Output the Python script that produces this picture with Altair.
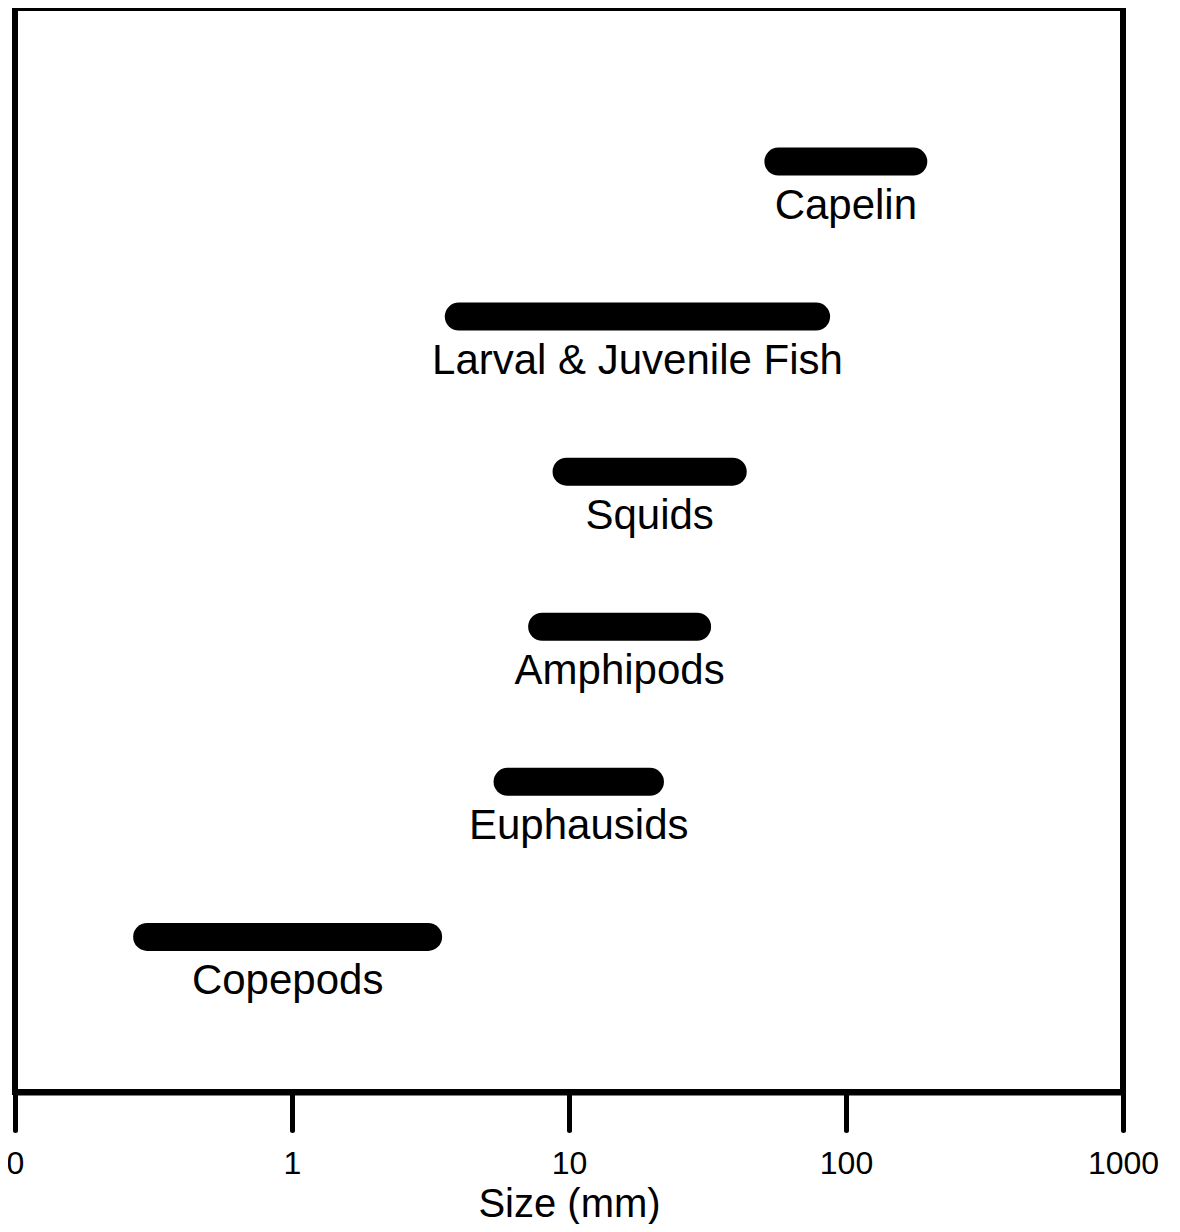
import altair as alt
import pandas as pd

species = ["Capelin", "Larval & Juvenile Fish", "Squids", "Amphipods", "Euphausids", "Copepods"]
row = [6, 5, 4, 3, 2, 1]
size_min = [57, 4.0, 9.8, 8.0, 6.0, 0.3]
size_max = [175, 78, 39, 29, 19.6, 3.1]
tick_values = [0.1, 1, 10, 100, 1000]

df = pd.DataFrame({"species": species, "row": row, "lo": size_min, "hi": size_max})

xscale = alt.Scale(type="log", domain=[0.1, 1000], nice=False)
yscale = alt.Scale(domain=[0, 6.99], nice=False, zero=False)

xaxis = alt.Axis(values=tick_values, grid=False,
                 labelExpr="datum.value < 1 ? '0' : format(datum.value, 'd')",
                 labelFontSize=32, labelFont="Liberation Sans", labelColor="black",
                 labelPadding=18, labelFlush=False, labelOverlap=False,
                 tickSize=38, tickWidth=5, tickColor="black", tickCap="round",
                 domainWidth=6, domainColor="black",
                 titleFontSize=40, titleFont="Liberation Sans", titleFontWeight="normal",
                 titleColor="black", titleBaseline="alphabetic", titleY=124)

base = alt.Chart(df)

bars = base.mark_rule(strokeWidth=28, strokeCap="round", color="black").encode(
    x=alt.X("lo:Q", scale=xscale, title="Size (mm)", axis=xaxis),
    x2="hi:Q",
    y=alt.Y("row:Q", scale=yscale, axis=None),
)

labels = base.transform_calculate(
    mid="sqrt(datum.lo * datum.hi)"
).mark_text(fontSize=42, font="Liberation Sans", color="black", dy=57,
            baseline="alphabetic", align="center").encode(
    x=alt.X("mid:Q", scale=xscale, title="Size (mm)", axis=xaxis),
    y=alt.Y("row:Q", scale=yscale, axis=None),
    text="species:N",
)

chart = alt.layer(bars, labels).properties(
    width=1108, height=1084,
    autosize=alt.AutoSizeParams(type="none"),
    padding={"left": 7, "top": 0, "right": 49, "bottom": 132},
).configure_view(stroke="black", strokeWidth=6)

chart.save("out.html", embed_options={"renderer": "svg", "actions": False})
